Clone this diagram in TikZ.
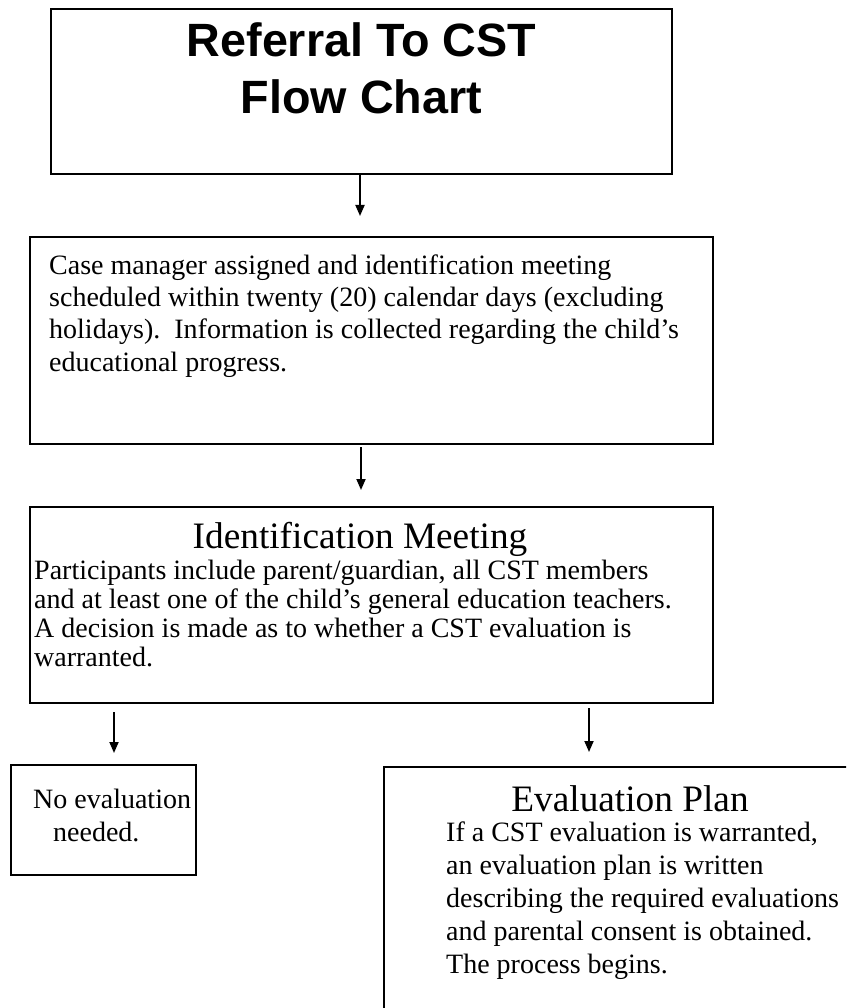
\documentclass[tikz,border=0pt]{standalone}
\usepackage{fontspec}
\setmainfont{Liberation Serif}
\newfontfamily\titlefont{Liberation Sans}
\usetikzlibrary{arrows.meta}
\begin{document}
\begin{tikzpicture} [
                x=1pt, y=-1pt,
                box/.style={draw,line width=1.8pt,inner sep=0pt,outer sep=0pt,anchor=north west},
                txt/.style={inner sep=0pt,anchor=base west,align=left,font=\fontsize{28}{32.2}\selectfont},
                head/.style={inner sep=0pt,anchor=base,font=\fontsize{37.3}{43}\selectfont},
                arrow/.style = {draw,line width=1.8pt,-{Triangle[length=11pt,width=9pt]}},
            ]
            \useasboundingbox (0,0) rectangle (846,1008);
            \clip (0,0) rectangle (846,1008);
            \foreach \pos/\boxw/\boxh/\name in {
            {(51,9)/621/165/title}, {(30,237)/683/207/case}, {(30,507)/683/196/ident},
            {(11,765)/185/110/noeval}, {(384,767)/492/280/plan}}
                \node[box,minimum width=\boxw pt,minimum height=\boxh pt] (\name) at \pos {};
            \node[inner sep=0pt,anchor=base,align=center,font=\titlefont\bfseries\fontsize{46.7}{57}\selectfont] (titletext) at (361.5,114) {Referral To CST\\Flow Chart};
            \node[txt] (casetext) at (49,371) {Case manager assigned and identification meeting\\scheduled within twenty (20) calendar days (excluding\\holidays).\ \ Information is collected regarding the child’s\\educational progress.};
            \node[head] (identhead) at (360,548) {Identification Meeting};
            \node[txt,font=\fontsize{28}{28.7}\selectfont] (identtext) at (34,666) {Participants include parent/guardian, all CST members\\and at least one of the child’s general education teachers.\\A decision is made as to whether a CST evaluation is\\warranted.};
            \node[txt] (noevaltext) at (33,841) {No evaluation\\\hspace*{20pt}needed.};
            \node[head] (planhead) at (630,811) {Evaluation Plan};
            \node[txt,font=\fontsize{28}{33}\selectfont] (plantext) at (446,973) {If a CST evaluation is warranted,\\an evaluation plan is written\\describing the required evaluations\\and parental consent is obtained.\\The process begins.};
            \foreach \source/\dest/\xpos/\gapa/\gapb in {
                    title/case/360/0/21, case/ident/361/3/17, ident/noeval/114/9/12, ident/plan/589/5/15}
                \path[arrow,shorten <=\gapa pt,shorten >=\gapb pt] (\xpos,0 |- \source.south) -- (\xpos,0 |- \dest.north);
        \end{tikzpicture}
\end{document}
